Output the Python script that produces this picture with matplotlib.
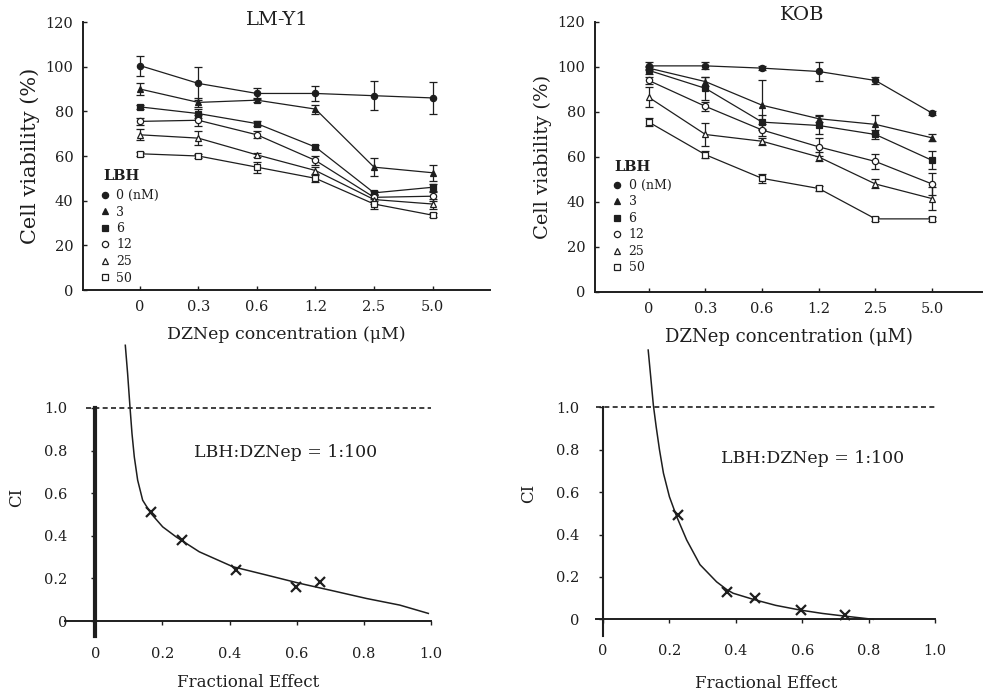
import matplotlib
matplotlib.use("Agg")
import matplotlib.pyplot as plt
from matplotlib.lines import Line2D

plt.rcParams['font.family'] = ['DejaVu Serif', 'DejaVu Sans']

# ---------------- data ----------------
dz_labels = ['0', '0.3', '0.6', '1.2', '2.5', '5.0']
lbh_labels = ['0 (nM)', '3', '6', '12', '25', '50']

# LM-Y1 cell viability (%) per LBH dose
lm_v0 = [100.5, 92.5, 88.0, 88.0, 87.0, 86.0]
lm_v3 = [90.0, 84.0, 85.0, 81.0, 55.0, 52.5]
lm_v6 = [82.0, 79.0, 74.5, 64.0, 43.5, 46.0]
lm_v12 = [75.5, 76.0, 69.5, 58.0, 41.5, 42.0]
lm_v25 = [69.5, 68.0, 60.5, 53.5, 40.5, 38.5]
lm_v50 = [61.0, 60.0, 55.0, 50.0, 38.5, 33.5]
lm_e0 = [4.5, 7.5, 2.5, 3.5, 6.5, 7.0]
lm_e3 = [2.5, 2.0, 1.0, 2.0, 4.0, 3.5]
lm_e6 = [1.0, 2.0, 1.0, 1.0, 1.0, 1.5]
lm_e12 = [1.5, 2.5, 1.5, 2.0, 1.5, 2.0]
lm_e25 = [2.5, 3.0, 1.0, 1.5, 2.0, 2.2]
lm_e50 = [1.0, 1.0, 2.5, 1.5, 2.2, 1.0]

# KOB cell viability (%) per LBH dose
kob_v0 = [100.5, 100.5, 99.5, 98.0, 94.0, 79.5]
kob_v3 = [99.5, 93.5, 83.0, 77.0, 74.5, 68.5]
kob_v6 = [98.5, 90.5, 75.5, 74.0, 70.0, 58.5]
kob_v12 = [94.0, 82.5, 72.0, 64.5, 58.0, 48.0]
kob_v25 = [86.5, 70.0, 67.0, 60.0, 48.0, 41.5]
kob_v50 = [75.5, 61.0, 50.5, 46.0, 32.5, 32.5]
kob_e0 = [1.5, 1.5, 1.0, 4.2, 1.5, 1.0]
kob_e3 = [1.0, 2.0, 11.0, 1.5, 4.2, 1.5]
kob_e6 = [1.5, 5.0, 3.0, 4.0, 2.0, 4.0]
kob_e12 = [1.5, 2.0, 2.5, 4.0, 3.2, 5.0]
kob_e25 = [4.4, 5.3, 1.5, 2.0, 2.0, 5.0]
kob_e50 = [1.8, 1.5, 2.0, 1.0, 1.0, 1.0]

# Combination index curves (Fa, CI)
lm_fa_curve = [0.0896, 0.0965, 0.1035, 0.1095, 0.1164, 0.1264, 0.1413, 0.166, 0.201,
               0.241, 0.31, 0.41, 0.51, 0.609, 0.708, 0.808, 0.907, 0.992]
lm_ci_curve = [1.294, 1.161, 1.005, 0.88, 0.77, 0.661, 0.567, 0.505, 0.442,
               0.395, 0.325, 0.255, 0.216, 0.177, 0.142, 0.106, 0.075, 0.036]
lm_fa_pts = [0.166, 0.259, 0.42, 0.599, 0.669]
lm_ci_pts = [0.51, 0.38, 0.24, 0.161, 0.185]

kob_fa_curve = [0.136, 0.1436, 0.1516, 0.160, 0.170, 0.182, 0.20, 0.222, 0.252, 0.292,
                0.342, 0.373, 0.392, 0.453, 0.52, 0.593, 0.66, 0.724, 0.814]
kob_ci_curve = [1.27, 1.144, 1.01, 0.909, 0.80, 0.689, 0.578, 0.484, 0.374, 0.258,
                0.177, 0.14, 0.123, 0.094, 0.066, 0.044, 0.028, 0.016, 0.0]
kob_fa_pts = [0.226, 0.373, 0.458, 0.595, 0.729]
kob_ci_pts = [0.49, 0.13, 0.099, 0.044, 0.022]

ci_ref = 1.0
ratio_text = 'LBH:DZNep = 1:100'

# ---------------- styling ----------------
INK = '#1e1e1e'
markers = ['o', '^', 's', 'o', '^', 's']
fills = [INK, INK, INK, 'white', 'white', 'white']

fig = plt.figure(figsize=(9.83, 6.99), dpi=100)

def viability_panel(rect, title, vals, errs, xlim, title_xy, ylab_size, xlab_size,
                    lbh_xy, leg_anchor):
    ax = fig.add_axes(rect)
    ax.patch.set_alpha(0)
    xs = list(range(len(dz_labels)))
    for v, e, m, f in zip(vals, errs, markers, fills):
        ax.errorbar(xs, v, yerr=e, color=INK, lw=0.9, elinewidth=0.9, capsize=3,
                    capthick=0.9, marker=m, ms=4.5, mfc=f, mec=INK, mew=0.9, zorder=3)
    ax.set_xlim(*xlim)
    ax.set_ylim(0, 120)
    ax.set_xticks(xs)
    ax.set_xticklabels(dz_labels)
    ax.set_yticks(range(0, 121, 20))
    for s in ['top', 'right']:
        ax.spines[s].set_visible(False)
    for s in ['left', 'bottom']:
        ax.spines[s].set_linewidth(1.4)
        ax.spines[s].set_color(INK)
    ax.tick_params(direction='in', length=3, width=1, colors=INK, labelsize=10.5, pad=7)
    ax.set_ylabel('Cell viability (%)', fontsize=ylab_size, color=INK, labelpad=4)
    ax.set_xlabel('DZNep concentration (μM)', fontsize=xlab_size, color=INK, labelpad=9)
    ax.text(title_xy[0], title_xy[1], title, transform=ax.transAxes, fontsize=14,
            color=INK, ha='center', va='center')
    ax.text(lbh_xy[0], lbh_xy[1], 'LBH', transform=ax.transAxes, fontsize=10.5,
            fontweight='bold', color=INK, ha='left', va='center')
    handles = [Line2D([], [], marker=m, ls='none', ms=4.5, mfc=f, mec=INK, mew=0.9)
               for m, f in zip(markers, fills)]
    leg = ax.legend(handles, lbh_labels, loc='upper left',
                    bbox_to_anchor=leg_anchor, frameon=False, fontsize=9,
                    handlelength=0.6, handletextpad=0.6,
                    labelspacing=0.28, borderpad=0, borderaxespad=0)
    for t in leg.get_texts():
        t.set_color(INK)
    return ax

viability_panel([83/983, 1-290/699, 407/983, 268/699], 'LM-Y1',
                [lm_v0, lm_v3, lm_v6, lm_v12, lm_v25, lm_v50],
                [lm_e0, lm_e3, lm_e6, lm_e12, lm_e25, lm_e50],
                (-0.97, 5.98), (0.477, 1.007), 15, 12.5,
                (0.049, (290-176)/268), (0.045, (290-189)/268))
viability_panel([595/983, 1-292/699, 387/983, 270/699], 'KOB',
                [kob_v0, kob_v3, kob_v6, kob_v12, kob_v25, kob_v50],
                [kob_e0, kob_e3, kob_e6, kob_e12, kob_e25, kob_e50],
                (-0.95, 5.88), (0.535, 1.026), 14, 13,
                (0.049, (292-167)/270), (0.048, (292-179)/270))

def ci_panel(rect, fa_c, ci_c, fa_p, ci_p, xlim, ylim, ybottom, spine_lw, dash_x0,
             text_xy, ypad, xpad, xlabpad):
    ax = fig.add_axes(rect)
    ax.patch.set_alpha(0)
    ax.plot(fa_c, ci_c, color=INK, lw=1.1, zorder=3, solid_joinstyle='round')
    ax.plot(fa_p, ci_p, ls='none', marker='x', ms=7, mew=1.6, color=INK, zorder=4)
    ax.hlines(ci_ref, dash_x0, 1.0, colors=INK, linestyles=(0, (3, 2)), lw=1.2)
    ax.set_xlim(*xlim)
    ax.set_ylim(*ylim)
    for s in ['top', 'right']:
        ax.spines[s].set_visible(False)
    ax.spines['left'].set_position(('data', 0))
    ax.spines['left'].set_bounds(ybottom, 1.0)
    ax.spines['left'].set_linewidth(spine_lw)
    ax.spines['bottom'].set_position(('data', 0))
    ax.spines['bottom'].set_bounds(xlim[0], 1.0)
    ax.spines['bottom'].set_linewidth(1.4)
    for s in ['left', 'bottom']:
        ax.spines[s].set_color(INK)
    ticks = [0, 0.2, 0.4, 0.6, 0.8, 1.0]
    labels = ['0', '0.2', '0.4', '0.6', '0.8', '1.0']
    ax.set_xticks(ticks)
    ax.set_xticklabels(labels)
    ax.set_yticks(ticks)
    ax.set_yticklabels(labels)
    ax.tick_params(axis='y', direction='out', length=3, width=1, colors=INK,
                   labelsize=10.5, pad=ypad)
    ax.tick_params(axis='x', direction='out', length=3, width=1, colors=INK,
                   labelsize=10.5, pad=xpad)
    ax.set_xlabel('Fractional Effect', fontsize=12, color=INK, labelpad=xlabpad)
    ax.set_ylabel('CI', fontsize=12, color=INK)
    ax.text(text_xy[0], text_xy[1], ratio_text, fontsize=12.5, color=INK,
            ha='center', va='center')
    return ax

ax3 = ci_panel([65/983, 1-636/699, 366/983, 292/699], lm_fa_curve, lm_ci_curve,
               lm_fa_pts, lm_ci_pts, (-0.09, 1.0), (-0.07, 1.3), -0.07, 3.0, -0.027,
               (0.567, 0.79), 17, 16, 9)
ax3.yaxis.set_label_coords(-0.109, 0.476)
ax4 = ci_panel([596.4/983, 1-636.3/699, 338.6/983, 292.6/699], kob_fa_curve, kob_ci_curve,
               kob_fa_pts, kob_ci_pts, (-0.02, 1.0), (-0.08, 1.3), -0.08, 1.5, -0.02,
               (0.63, 0.76), 14, 15, 12)
ax4.yaxis.set_label_coords(-0.175, 0.49)

fig.savefig('out.png', dpi=100, facecolor='white')
